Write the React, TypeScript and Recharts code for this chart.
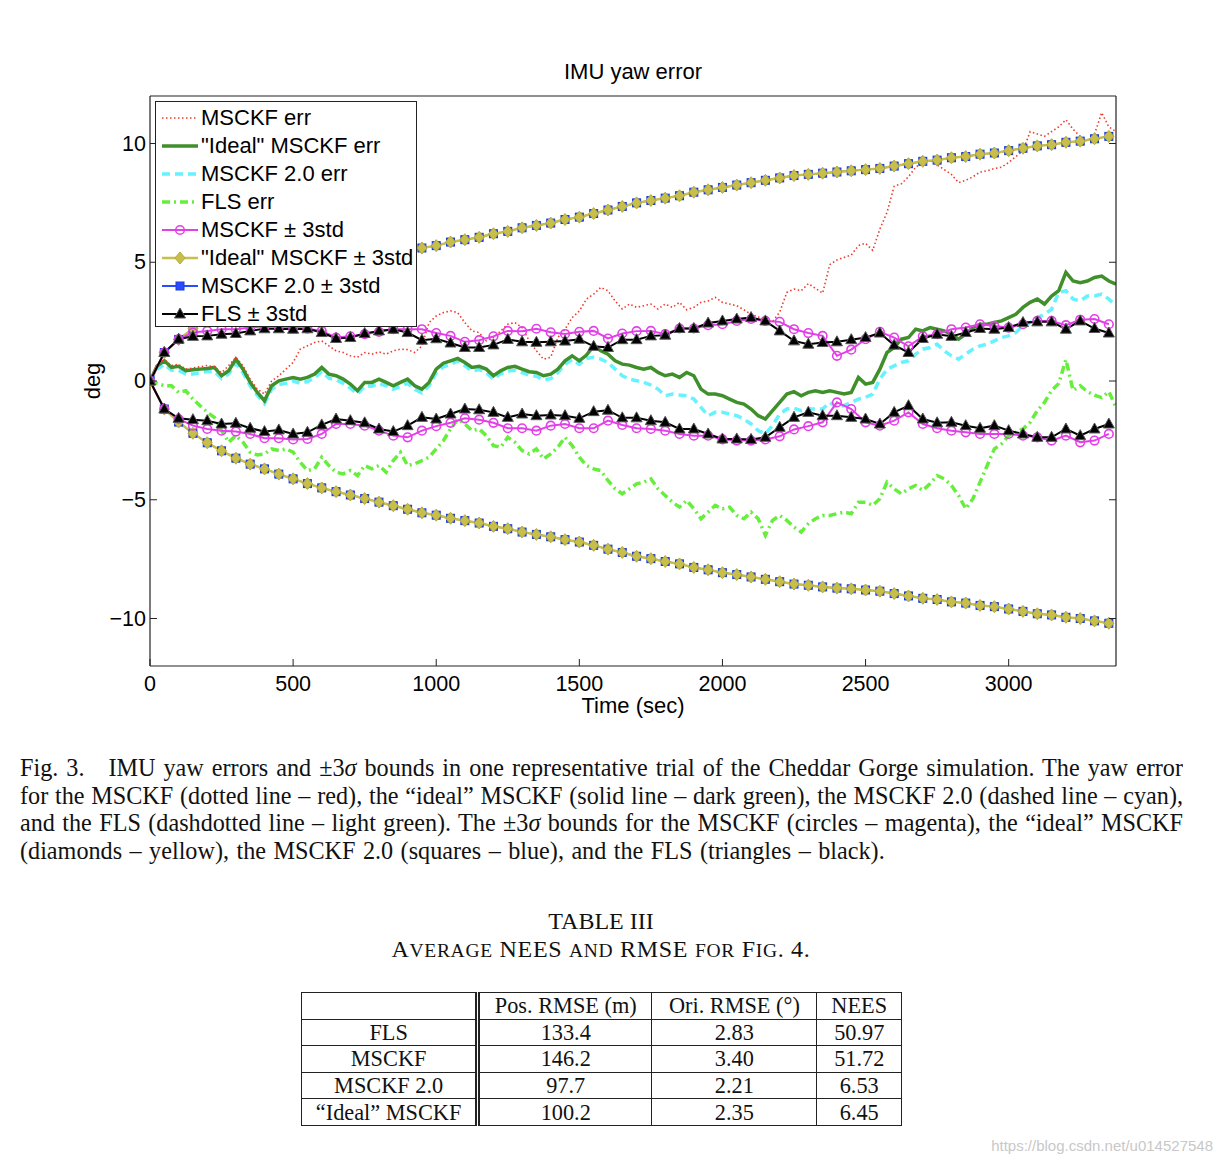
import React from 'react';
import { LineChart, Line, XAxis, YAxis, Legend } from 'recharts';

// ---------------- data ----------------
const T_ERR = Array.from({ length: 136 }, (_, i) => i * 25); // sec
const T_BOUND = Array.from({ length: 68 }, (_, i) => i * 50); // sec

const X_TICKS = [0, 500, 1000, 1500, 2000, 2500, 3000];
const Y_TICKS = [-10, -5, 0, 5, 10];

// MSCKF err (red, dotted)
const MSCKF_ERR = [
  0, 0.7, 0.9, 0.65, 0.7, 0.5, 0.55, 0.6, 0.65, 0.6,
  0.35, 0.65, 1.0, 0.64, 0.08, -0.34, -0.55, 0.0, 0.22, 0.5,
  0.78, 1.34, 1.48, 1.62, 1.69, 1.48, 1.27, 1.2, 1.06, 1.0,
  1.2, 1.13, 1.23, 1.13, 1.27, 1.34, 1.32, 1.2, 1.48, 2.46,
  2.74, 2.88, 2.95, 2.88, 2.46, 2.11, 2.04, 1.69, 1.83, 2.11,
  2.39, 2.46, 2.25, 1.69, 1.27, 0.92, 1.0, 1.83, 2.18, 2.67,
  2.95, 3.45, 3.66, 3.94, 3.8, 3.37, 3.03, 3.24, 3.1, 3.17,
  3.24, 3.03, 3.24, 3.1, 3.31, 3.0, 3.1, 3.31, 3.37, 3.52,
  3.31, 3.24, 3.17, 3.0, 2.8, 2.7, 2.55, 2.5, 2.9, 3.73,
  3.87, 3.8, 4.1, 3.9, 3.7, 4.9, 5.1, 5.2, 5.3, 5.7,
  5.8, 5.5, 6.4, 7.1, 8.2, 8.3, 8.6, 9.0, 9.2, 9.3,
  9.1, 8.9, 8.7, 8.35, 8.45, 8.6, 8.8, 8.85, 8.95, 9.0,
  9.2, 9.45, 9.7, 10.5, 10.4, 10.3, 10.5, 10.7, 11.0, 10.6,
  10.3, 10.1, 10.4, 11.3, 10.7, 10.5,
];

// "Ideal" MSCKF err (dark green, solid)
const IDEAL_ERR = [
  0, 0.64, 0.85, 0.57, 0.62, 0.43, 0.47, 0.5, 0.53, 0.57,
  0.22, 0.43, 0.92, 0.5, -0.06, -0.48, -0.83, -0.2, 0.01, 0.08,
  0.15, 0.08, 0.15, 0.29, 0.57, 0.29, 0.22, 0.08, -0.13, -0.41,
  -0.06, -0.06, 0.08, -0.06, -0.2, -0.06, 0.08, -0.2, -0.34, -0.06,
  0.5, 0.75, 0.85, 0.95, 0.78, 0.57, 0.62, 0.5, 0.22, 0.43,
  0.57, 0.62, 0.5, 0.39, 0.36, 0.22, 0.29, 0.5, 0.85, 1.06,
  0.85, 1.09, 1.48, 1.27, 1.13, 0.85, 0.71, 0.67, 0.57, 0.5,
  0.57, 0.36, 0.22, 0.29, 0.15, 0.36, 0.22, -0.34, -0.55, -0.55,
  -0.62, -0.76, -0.9, -0.97, -1.18, -1.46, -1.6, -1.25, -0.9, -0.55,
  -0.45, -0.62, -0.48, -0.41, -0.48, -0.41, -0.48, -0.55, -0.48, 0.15,
  -0.13, -0.06, 0.5, 1.2, 1.41, 1.76, 1.83, 2.18, 2.11, 2.25,
  2.18, 2.11, 1.97, 1.76, 1.97, 2.25, 2.39, 2.39, 2.46, 2.53,
  2.67, 2.81, 3.1, 3.31, 3.45, 3.24, 3.58, 3.8, 4.57, 4.21,
  4.14, 4.21, 4.36, 4.42, 4.21, 4.08,
];

// MSCKF 2.0 err (cyan, dashed)
const V2_ERR = [
  0, 0.5, 0.7, 0.45, 0.45, 0.3, 0.3, 0.35, 0.4, 0.4,
  0.1, 0.3, 0.75, 0.35, -0.2, -0.6, -0.95, -0.35, -0.15, -0.1,
  0.0, -0.1, -0.02, 0.12, 0.4, 0.12, 0.05, -0.1, -0.3, -0.55,
  -0.2, -0.22, -0.1, -0.2, -0.35, -0.22, -0.1, -0.35, -0.5, -0.2,
  0.35, 0.6, 0.7, 0.85, 0.65, 0.42, 0.48, 0.35, 0.08, 0.3,
  0.42, 0.45, 0.35, 0.25, 0.2, 0.05, 0.1, 0.35, 0.7, 0.9,
  0.7, 0.95, 1.0, 0.92, 0.78, 0.5, 0.22, 0.08, 0.01, -0.06,
  -0.17, -0.34, -0.62, -0.55, -0.59, -0.62, -0.76, -1.11, -1.46, -1.32,
  -1.32, -1.39, -1.46, -1.6, -1.81, -2.09, -2.23, -1.88, -1.39, -1.18,
  -1.15, -1.25, -1.18, -1.18, -1.18, -0.9, -1.11, -1.04, -0.9, -0.76,
  -0.69, -0.55, 0.08, 0.5, 0.64, 0.78, 0.85, 1.13, 1.34, 1.41,
  1.55, 1.27, 1.06, 0.92, 1.13, 1.34, 1.48, 1.55, 1.69, 1.83,
  1.9, 2.04, 2.32, 2.46, 2.67, 2.81, 3.02, 3.73, 3.8, 3.45,
  3.37, 3.58, 3.58, 3.66, 3.45, 3.16,
];

// FLS err (light green, dash-dot)
const FLS_ERR = [
  0, -0.1, -0.2, -0.2, -0.48, -0.41, -0.76, -1.04, -1.32, -1.53,
  -2.09, -2.58, -2.3, -2.58, -3.0, -3.11, -3.07, -2.86, -2.93, -2.86,
  -3.0, -3.42, -3.77, -3.7, -3.21, -3.56, -3.84, -3.91, -3.77, -3.98,
  -3.56, -3.7, -3.56, -3.84, -3.35, -3.0, -3.56, -3.49, -3.35, -3.21,
  -2.86, -2.51, -2.02, -1.6, -1.81, -2.09, -2.02, -2.3, -2.72, -2.79,
  -2.37, -2.58, -2.93, -3.07, -2.86, -3.28, -3.07, -2.79, -2.37, -2.72,
  -3.21, -3.56, -3.7, -3.77, -4.19, -4.54, -4.75, -4.54, -4.33, -4.26,
  -4.12, -4.54, -4.82, -5.1, -5.31, -5.03, -5.38, -5.8, -5.52, -5.24,
  -5.38, -5.31, -5.66, -5.8, -5.52, -5.8, -6.5, -5.87, -5.66, -5.87,
  -6.15, -6.36, -6.01, -5.8, -5.66, -5.66, -5.59, -5.52, -5.59, -5.1,
  -5.1, -5.24, -4.96, -4.26, -4.54, -4.75, -4.54, -4.4, -4.61, -4.33,
  -3.98, -4.12, -4.4, -4.82, -5.38, -4.96, -4.26, -3.56, -2.86, -2.65,
  -2.3, -2.16, -2.02, -1.74, -1.25, -0.9, -0.4, -0.1, 0.9, -0.4,
  -0.2, -0.45, -0.6, -0.7, -0.45, -1.1,
];

// MSCKF ±3std (magenta circles)
const MSCKF_UP = [
  0, 1.2, 1.75, 2.04, 2.11, 2.18, 2.18, 2.25, 2.3, 2.3,
  2.25, 2.2, 2.11, 1.83, 1.88, 1.97, 2.07, 2.18, 2.18, 2.18,
  2.02, 1.9, 1.65, 1.72, 1.88, 2.11, 2.1, 2.2, 2.05, 1.98,
  2.07, 2.11, 1.79, 2.0, 2.1, 2.11, 1.97, 2.21, 2.21, 2.35,
  2.39, 2.53, 2.61, 2.53, 2.49, 2.18, 2.02, 1.9, 1.06, 1.32,
  1.76, 2.07, 1.83, 1.46, 1.88, 1.97, 2.18, 2.25, 2.39, 2.32,
  2.25, 2.39, 2.53, 2.53, 2.35, 2.58, 2.61, 2.39,
];
const MSCKF_LO = [
  0, -1.18, -1.6, -1.88, -2.02, -2.09, -2.13, -2.23, -2.41, -2.41,
  -2.46, -2.44, -2.23, -1.81, -1.81, -1.88, -2.09, -2.3, -2.37, -2.09,
  -1.9, -1.76, -1.57, -1.63, -1.76, -1.99, -1.99, -2.09, -1.88, -1.81,
  -1.99, -1.99, -1.67, -1.85, -1.99, -2.02, -2.09, -2.23, -2.3, -2.3,
  -2.46, -2.51, -2.51, -2.46, -2.33, -2.04, -1.9, -1.74, -0.9, -1.18,
  -1.74, -1.88, -1.67, -1.32, -1.81, -1.99, -2.09, -2.16, -2.23, -2.23,
  -2.23, -2.3, -2.37, -2.51, -2.3, -2.58, -2.51, -2.23,
];

// "Ideal" MSCKF ±3std (yellow diamonds) and MSCKF 2.0 ±3std (blue squares)
const IDEAL_UP = [
  0, 1.2, 1.75, 2.2, 2.6, 2.95, 3.25, 3.5, 3.75, 3.95,
  4.15, 4.35, 4.55, 4.7, 4.85, 5.0, 5.15, 5.3, 5.45, 5.6,
  5.7, 5.85, 5.95, 6.05, 6.2, 6.3, 6.45, 6.55, 6.65, 6.8,
  6.9, 7.05, 7.2, 7.35, 7.5, 7.6, 7.7, 7.8, 7.95, 8.05,
  8.15, 8.25, 8.35, 8.45, 8.55, 8.65, 8.7, 8.75, 8.8, 8.85,
  8.9, 8.95, 9.05, 9.15, 9.25, 9.3, 9.4, 9.45, 9.55, 9.6,
  9.7, 9.8, 9.9, 9.95, 10.05, 10.1, 10.2, 10.3,
];
const IDEAL_LO = [
  0, -1.18, -1.73, -2.2, -2.6, -2.94, -3.25, -3.5, -3.7, -3.92,
  -4.12, -4.32, -4.5, -4.66, -4.8, -4.95, -5.1, -5.25, -5.4, -5.55,
  -5.65, -5.78, -5.88, -5.98, -6.12, -6.22, -6.36, -6.46, -6.56, -6.68,
  -6.78, -6.92, -7.08, -7.22, -7.38, -7.48, -7.6, -7.7, -7.85, -7.95,
  -8.07, -8.15, -8.25, -8.35, -8.45, -8.55, -8.6, -8.67, -8.72, -8.75,
  -8.8, -8.85, -8.95, -9.05, -9.15, -9.2, -9.3, -9.35, -9.45, -9.5,
  -9.6, -9.7, -9.8, -9.85, -9.95, -10.0, -10.1, -10.2,
];
const V2_UP = IDEAL_UP;
const V2_LO = IDEAL_LO;

// FLS ±3std (black triangles)
const FLS_UP = [
  0, 1.2, 1.76, 1.88, 1.9, 1.97, 2.0, 2.11, 2.2, 2.2,
  2.18, 2.2, 2.04, 1.79, 1.83, 2.0, 2.11, 2.18, 2.04, 1.72,
  1.78, 1.6, 1.41, 1.41, 1.52, 1.75, 1.65, 1.63, 1.65, 1.68,
  1.76, 1.46, 1.41, 1.74, 1.74, 1.9, 1.93, 2.21, 2.21, 2.44,
  2.53, 2.61, 2.67, 2.53, 2.11, 1.69, 1.55, 1.62, 1.65, 1.74,
  1.83, 2.02, 1.51, 1.2, 1.79, 1.97, 1.88, 2.04, 2.21, 2.18,
  2.25, 2.46, 2.49, 2.49, 2.18, 2.53, 2.21, 2.02,
];
const FLS_LO = [
  0, -1.18, -1.57, -1.63, -1.67, -1.81, -1.78, -1.99, -2.13, -2.06,
  -2.23, -2.16, -1.85, -1.6, -1.67, -1.76, -2.02, -2.13, -1.88, -1.53,
  -1.6, -1.39, -1.18, -1.21, -1.32, -1.53, -1.39, -1.46, -1.43, -1.46,
  -1.57, -1.29, -1.23, -1.55, -1.55, -1.67, -1.74, -2.02, -2.02, -2.23,
  -2.44, -2.44, -2.46, -2.37, -1.95, -1.53, -1.32, -1.46, -1.46, -1.53,
  -1.6, -1.81, -1.32, -1.04, -1.6, -1.76, -1.74, -1.88, -1.99, -1.88,
  -2.09, -2.23, -2.37, -2.37, -2.02, -2.3, -2.02, -1.81,
];

const TABLE_HEAD = ['', 'Pos. RMSE (m)', 'Ori. RMSE (°)', 'NEES'];
const TABLE_ROWS = [
  ['FLS', '133.4', '2.83', '50.97'],
  ['MSCKF', '146.2', '3.40', '51.72'],
  ['MSCKF 2.0', '97.7', '2.21', '6.53'],
  ['\u201CIdeal\u201D MSCKF', '100.2', '2.35', '6.45'],
];

// ---------------- derived tables for the library ----------------
const errData = T_ERR.map((t, i) => ({
  t,
  msckf: MSCKF_ERR[i],
  ideal: IDEAL_ERR[i],
  v2: V2_ERR[i],
  fls: FLS_ERR[i],
}));
const boundData = T_BOUND.map((t, i) => ({
  t,
  msUp: MSCKF_UP[i],
  msLo: MSCKF_LO[i],
  idUp: IDEAL_UP[i],
  idLo: IDEAL_LO[i],
  v2Up: V2_UP[i],
  v2Lo: V2_LO[i],
  flsUp: FLS_UP[i],
  flsLo: FLS_LO[i],
}));

// ---------------- styles ----------------
const SANS = '"Liberation Sans", Arial, Helvetica, sans-serif';
const SERIF = '"Liberation Serif", "Times New Roman", Times, serif';
const C_RED = '#f03a2a';
const C_GREEN = '#3f8f2a';
const C_CYAN = '#66f2ff';
const C_LGREEN = '#66ee3c';
const C_MAG = '#e33fe8';
const C_YEL = '#c8bf4a';
const C_BLUE = '#2a4cff';
const C_BLK = '#000000';
const AX = '#222';
const TICK_FS = 21.5;
const TICK_LEN = 7;

const minus = (v: number) => String(v).replace('-', '\u2212');

// ---------------- markers ----------------
const Circle = (p: any) => (
  <circle key={`c-${p.dataKey}-${p.index}`} cx={p.cx} cy={p.cy} r={4.3} fill="none" stroke={C_MAG} strokeWidth={1.6} />
);
const Diamond = (p: any) => (
  <path
    key={`d-${p.dataKey}-${p.index}`}
    d={`M${p.cx},${p.cy - 6}L${p.cx + 5},${p.cy}L${p.cx},${p.cy + 6}L${p.cx - 5},${p.cy}Z`}
    fill={C_YEL}
    stroke="#b3aa3a"
    strokeWidth={1}
  />
);
const Square = (p: any) => (
  <rect key={`s-${p.dataKey}-${p.index}`} x={p.cx - 4} y={p.cy - 4} width={8} height={8} fill={C_BLUE} stroke="#1a3ae0" strokeWidth={1} />
);
const Triangle = (p: any) => (
  <path
    key={`t-${p.dataKey}-${p.index}`}
    d={`M${p.cx},${p.cy - 6}L${p.cx + 5.5},${p.cy + 4}L${p.cx - 5.5},${p.cy + 4}Z`}
    fill="#000"
    stroke="#555"
    strokeWidth={1}
  />
);

// ---------------- ticks ----------------
const BottomTick = (p: any) => (
  <g>
    <line x1={p.x} x2={p.x} y1={p.y} y2={p.y - TICK_LEN} stroke={AX} strokeWidth={1} />
    <text x={p.x} y={p.y + 18} textAnchor="middle" dominantBaseline="central" fontSize={TICK_FS} fontFamily={SANS} fill="#000">
      {p.payload.value}
    </text>
  </g>
);
const TopTick = (p: any) => (
  <line x1={p.x} x2={p.x} y1={p.y} y2={p.y + TICK_LEN} stroke={AX} strokeWidth={1} />
);
const LeftTick = (p: any) => (
  <g>
    <line x1={p.x} x2={p.x + TICK_LEN} y1={p.y} y2={p.y} stroke={AX} strokeWidth={1} />
    <text x={p.x - 4} y={p.y} textAnchor="end" dominantBaseline="central" fontSize={TICK_FS} fontFamily={SANS} fill="#000">
      {minus(p.payload.value)}
    </text>
  </g>
);
const RightTick = (p: any) => (
  <line x1={p.x} x2={p.x - TICK_LEN} y1={p.y} y2={p.y} stroke={AX} strokeWidth={1} />
);

// ---------------- legend ----------------
const LEGEND_ITEMS = [
  { label: 'MSCKF err', color: C_RED, width: 1.5, dash: '1.5 2.5', marker: null },
  { label: '"Ideal" MSCKF err', color: C_GREEN, width: 3.5, dash: undefined, marker: null },
  { label: 'MSCKF 2.0 err', color: C_CYAN, width: 3.5, dash: '8 5', marker: null },
  { label: 'FLS err', color: C_LGREEN, width: 3.5, dash: '8 4 2 4', marker: null },
  { label: 'MSCKF \u00B1 3std', color: C_MAG, width: 2, dash: undefined, marker: Circle },
  { label: '"Ideal" MSCKF \u00B1 3std', color: C_YEL, width: 2.5, dash: undefined, marker: Diamond },
  { label: 'MSCKF 2.0 \u00B1 3std', color: C_BLUE, width: 2, dash: undefined, marker: Square },
  { label: 'FLS \u00B1 3std', color: C_BLK, width: 2, dash: undefined, marker: Triangle },
];

const LegendBox = () => (
  <div
    style={{
      border: '1px solid #222',
      background: '#fff',
      width: 262,
      height: 226,
      boxSizing: 'border-box',
      paddingTop: 2,
    }}
  >
    {LEGEND_ITEMS.map((it, i) => (
      <div key={i} style={{ height: 28, display: 'flex', alignItems: 'center' }}>
        <svg width={45} height={28} style={{ flex: 'none' }}>
          <line x1={6} x2={42} y1={14} y2={14} stroke={it.color} strokeWidth={it.width} strokeDasharray={it.dash} />
          {it.marker ? it.marker({ cx: 24, cy: 14, index: 0, dataKey: 'lg' }) : null}
        </svg>
        <span style={{ fontSize: 22, fontFamily: SANS, lineHeight: '28px', color: '#000', whiteSpace: 'nowrap' }}>
          {it.label}
        </span>
      </div>
    ))}
  </div>
);

// ---------------- chart ----------------
const YLabel = (p: any) => {
  const vb = p.viewBox;
  const cx = vb.x - 8;
  const cy = vb.y + vb.height / 2;
  return (
    <text x={cx} y={cy} transform={`rotate(-90 ${cx} ${cy})`} textAnchor="middle" dominantBaseline="central" fontSize={22} fontFamily={SANS} fill="#000">
      deg
    </text>
  );
};
const XLabel = (p: any) => {
  const vb = p.viewBox;
  return (
    <text x={vb.x + vb.width / 2} y={vb.y + 39} textAnchor="middle" dominantBaseline="central" fontSize={22} fontFamily={SANS} fill="#000">
      Time (sec)
    </text>
  );
};

const Chart = () => (
  <LineChart width={1222} height={720} margin={{ top: 95, right: 105, bottom: 24, left: 100 }}>
    <XAxis
      xAxisId={0}
      dataKey="t"
      type="number"
      domain={[0, 3375]}
      allowDataOverflow
      ticks={X_TICKS}
      interval={0}
      height={30}
      tickSize={0}
      tickMargin={0}
      tickLine={false}
      tick={BottomTick}
      axisLine={{ stroke: AX, strokeWidth: 1.2 }}
      label={XLabel}
    />
    <XAxis
      xAxisId="top"
      orientation="top"
      type="number"
      domain={[0, 3375]}
      allowDataOverflow
      ticks={X_TICKS}
      interval={0}
      height={1}
      tickSize={0}
      tickMargin={0}
      tickLine={false}
      tick={TopTick}
      axisLine={{ stroke: AX, strokeWidth: 1.2 }}
    />
    <YAxis
      yAxisId={0}
      type="number"
      domain={[-12, 12]}
      allowDataOverflow
      ticks={Y_TICKS}
      interval={0}
      width={50}
      tickSize={0}
      tickMargin={0}
      tickLine={false}
      tick={LeftTick}
      axisLine={{ stroke: AX, strokeWidth: 1.2 }}
      label={YLabel}
    />
    <YAxis
      yAxisId="right"
      orientation="right"
      type="number"
      domain={[-12, 12]}
      allowDataOverflow
      ticks={Y_TICKS}
      interval={0}
      width={1}
      tickSize={0}
      tickMargin={0}
      tickLine={false}
      tick={RightTick}
      axisLine={{ stroke: AX, strokeWidth: 1.2 }}
    />

    {/* error curves */}
    <Line data={errData} dataKey="v2" type="linear" stroke={C_CYAN} strokeWidth={3.5} strokeDasharray="8 5" dot={false} activeDot={false} isAnimationActive={false} />
    <Line data={errData} dataKey="fls" type="linear" stroke={C_LGREEN} strokeWidth={3.5} strokeDasharray="8 4 2 4" dot={false} activeDot={false} isAnimationActive={false} />
    <Line data={errData} dataKey="ideal" type="linear" stroke={C_GREEN} strokeWidth={3.5} dot={false} activeDot={false} isAnimationActive={false} />
    <Line data={errData} dataKey="msckf" type="linear" stroke={C_RED} strokeWidth={1.6} strokeDasharray="1.5 2.5" dot={false} activeDot={false} isAnimationActive={false} />

    {/* 3-sigma bounds */}
    <Line data={boundData} dataKey="v2Up" stroke={C_BLUE} strokeWidth={1.5} dot={Square} activeDot={false} isAnimationActive={false} />
    <Line data={boundData} dataKey="v2Lo" stroke={C_BLUE} strokeWidth={1.5} dot={Square} activeDot={false} isAnimationActive={false} />
    <Line data={boundData} dataKey="idUp" stroke={C_YEL} strokeWidth={2.5} dot={Diamond} activeDot={false} isAnimationActive={false} />
    <Line data={boundData} dataKey="idLo" stroke={C_YEL} strokeWidth={2.5} dot={Diamond} activeDot={false} isAnimationActive={false} />
    <Line data={boundData} dataKey="msUp" stroke={C_MAG} strokeWidth={2} dot={Circle} activeDot={false} isAnimationActive={false} />
    <Line data={boundData} dataKey="msLo" stroke={C_MAG} strokeWidth={2} dot={Circle} activeDot={false} isAnimationActive={false} />
    <Line data={boundData} dataKey="flsUp" stroke={C_BLK} strokeWidth={2} dot={Triangle} activeDot={false} isAnimationActive={false} />
    <Line data={boundData} dataKey="flsLo" stroke={C_BLK} strokeWidth={2} dot={Triangle} activeDot={false} isAnimationActive={false} />

    <Legend
      layout="vertical"
      verticalAlign="middle"
      align="center"
      content={LegendBox}
      wrapperStyle={{ left: 155, top: 101, width: 262, height: 226 }}
    />
  </LineChart>
);

// ---------------- page ----------------
const CAPTION_LINES = [
  <>Fig. 3.&nbsp;&nbsp; IMU yaw errors and ±3<i>σ</i> bounds in one representative trial of the Cheddar Gorge simulation. The yaw error</>,
  <>for the MSCKF (dotted line – red), the “ideal” MSCKF (solid line – dark green), the MSCKF 2.0 (dashed line – cyan),</>,
  <>and the FLS (dashdotted line – light green). The ±3<i>σ</i> bounds for the MSCKF (circles – magenta), the “ideal” MSCKF</>,
  <>(diamonds – yellow), the MSCKF 2.0 (squares – blue), and the FLS (triangles – black).</>,
];

const SC = ({ children }: { children: React.ReactNode }) => <span style={{ fontSize: 19.5 }}>{children}</span>;

const cellBase: React.CSSProperties = {
  border: '1px solid #222',
  padding: 0,
  textAlign: 'center',
  fontFamily: SERIF,
  fontSize: 22.3,
  lineHeight: '25px',
  color: '#111',
};
const COL_W = [175, 173, 164, 84];

export default function App() {
  return (
    <div style={{ position: 'absolute', left: 0, top: 0, width: 1222, height: 1166, background: '#fff', overflow: 'hidden' }}>
      <div
        style={{
          position: 'absolute',
          left: 150,
          width: 966,
          top: 58,
          textAlign: 'center',
          fontFamily: SANS,
          fontSize: 22,
          lineHeight: '28px',
          color: '#000',
        }}
      >
        IMU yaw error
      </div>
      <div style={{ position: 'absolute', left: 0, top: 0 }}>
        <Chart />
      </div>

      <div style={{ position: 'absolute', left: 20, top: 754, width: 1163, fontFamily: SERIF, fontSize: 24.2, color: '#111' }}>
        {CAPTION_LINES.map((ln, i) => (
          <div
            key={i}
            style={{
              height: 27.7,
              lineHeight: '27.7px',
              textAlign: 'justify',
              textAlignLast: i < CAPTION_LINES.length - 1 ? 'justify' : 'left',
              whiteSpace: 'normal',
              overflow: 'hidden',
              wordSpacing: i === CAPTION_LINES.length - 1 ? 1.4 : undefined,
            }}
          >
            {ln}
          </div>
        ))}
      </div>

      <div style={{ position: 'absolute', left: 0, width: 1202, top: 907, textAlign: 'center', fontFamily: SERIF, fontSize: 24, lineHeight: '28px', color: '#111' }}>
        TABLE III
      </div>
      <div style={{ position: 'absolute', left: 0, width: 1202, top: 935, textAlign: 'center', fontFamily: SERIF, fontSize: 24, lineHeight: '28px', color: '#111', letterSpacing: 0.7 }}>
        A<SC>VERAGE</SC> NEES <SC>AND</SC> RMSE <SC>FOR</SC> F<SC>IG</SC>. 4.
      </div>

      <table
        style={{
          position: 'absolute',
          left: 301,
          top: 992,
          borderCollapse: 'collapse',
          tableLayout: 'fixed',
          width: 601,
        }}
      >
        <colgroup>
          {COL_W.map((w, i) => (
            <col key={i} style={{ width: w }} />
          ))}
        </colgroup>
        <tbody>
          {[TABLE_HEAD, ...TABLE_ROWS].map((row, r) => (
            <tr key={r} style={{ height: 26.6 }}>
              {row.map((c, k) => (
                <td key={k} style={{ ...cellBase, borderRight: k === 0 ? '5px double #222' : cellBase.border }}>
                  {c}
                </td>
              ))}
            </tr>
          ))}
        </tbody>
      </table>

      <div style={{ position: 'absolute', right: 9, top: 1137, fontFamily: SANS, fontSize: 15, color: '#c8c8c8' }}>
        https://blog.csdn.net/u014527548
      </div>
    </div>
  );
}
